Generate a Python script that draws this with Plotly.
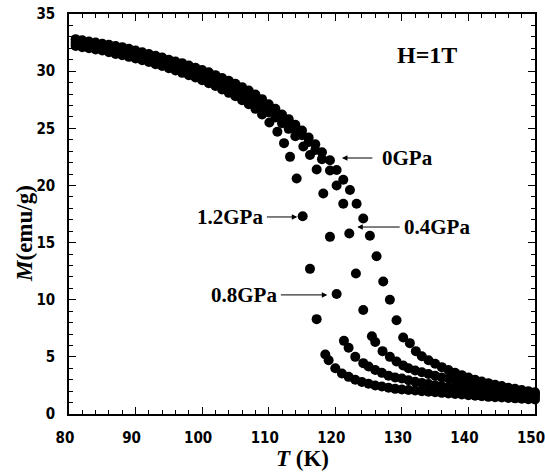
import plotly.graph_objects as go

# Magnetization M (emu/g) versus temperature T (K) at H = 1 T for four pressures
t_0gpa = [81, 82, 83, 84, 85, 86, 87, 88, 89, 90, 91, 92, 93, 94, 95, 96, 97, 98, 99, 100,
          101, 102, 103, 104, 105, 106, 107, 108, 109, 110, 111, 112, 113, 114, 115, 116, 117, 118,
          119.2, 120.2, 121.2, 122.2, 123.2, 124.2, 125.2, 126.2, 127.2, 128.2, 129.2, 130.2, 131.2,
          132.1, 133, 134, 135, 136, 137, 138, 139, 140, 141, 142, 143, 144, 145, 146, 147, 148, 149, 150]
m_0gpa = [32.8, 32.7, 32.6, 32.5, 32.4, 32.3, 32.2, 32.1, 31.95, 31.8, 31.65, 31.5, 31.35, 31.2, 31.0,
          30.85, 30.7, 30.5, 30.3, 30.1, 29.9, 29.65, 29.4, 29.15, 28.9, 28.6, 28.3, 27.95, 27.55, 27.1,
          26.7, 26.2, 25.8, 25.3, 24.8, 24.2, 23.6, 22.9,
          22.2, 21.35, 20.5, 19.6, 18.4, 17.1, 15.6, 13.8, 11.6, 10.0, 8.2, 6.7, 6.2,
          5.5, 5.05, 4.7, 4.4, 4.1, 3.85, 3.6, 3.4, 3.2, 3.0, 2.85, 2.7, 2.55, 2.45, 2.3, 2.2, 2.1, 2.0, 1.9]

t_04gpa = [81, 82, 83, 84, 85, 86, 87, 88, 89, 90, 91, 92, 93, 94, 95, 96, 97, 98, 99, 100,
           101, 102, 103, 104, 105, 106, 107, 108, 109, 110, 111, 112, 113, 114, 115, 116, 117, 118,
           119.2, 120.2, 121.2, 122.1, 123.1, 124.2, 125.5, 126.0, 127.1, 128.2, 129.2, 130.2,
           131, 132, 133, 134, 135, 136, 137, 138, 139, 140, 141, 142, 143, 144, 145, 146, 147, 148, 149, 150]
m_04gpa = [32.6, 32.5, 32.4, 32.3, 32.2, 32.1, 31.95, 31.8, 31.7, 31.55, 31.4, 31.25, 31.1, 30.95, 30.8,
           30.6, 30.45, 30.25, 30.05, 29.85, 29.6, 29.4, 29.15, 28.9, 28.6, 28.3, 28.0, 27.65, 27.25, 26.85,
           26.4, 25.95, 25.45, 24.95, 24.4, 23.8, 23.1, 22.3,
           21.3, 20.0, 18.4, 15.8, 12.3, 9.1, 6.8, 6.3, 5.5, 5.0, 4.6, 4.25,
           4.0, 3.8, 3.65, 3.5, 3.35, 3.2, 3.1, 2.95, 2.85, 2.75, 2.65, 2.55, 2.45, 2.35, 2.25, 2.15, 2.05,
           1.95, 1.85, 1.75]

t_08gpa = [81, 82, 83, 84, 85, 86, 87, 88, 89, 90, 91, 92, 93, 94, 95, 96, 97, 98, 99, 100,
           101, 102, 103, 104, 105, 106, 107, 108, 109, 110, 111, 112, 113, 114,
           115.2, 116.2, 117.2, 118.2, 119.2, 120.2, 121.3, 122.0, 123.0, 124.2,
           125, 126, 127, 128, 129, 130, 131, 132, 133, 134, 135, 136, 137, 138, 139, 140,
           141, 142, 143, 144, 145, 146, 147, 148, 149, 150]
m_08gpa = [32.4, 32.3, 32.2, 32.1, 32.0, 31.85, 31.7, 31.6, 31.45, 31.3, 31.15, 31.0, 30.85, 30.7, 30.5,
           30.35, 30.15, 29.95, 29.75, 29.55, 29.3, 29.1, 28.85, 28.55, 28.25, 27.95, 27.6, 27.25, 26.85,
           26.4, 25.95, 25.45, 24.95, 24.3,
           23.4, 22.66, 21.4, 19.3, 15.5, 10.5, 6.4, 5.8, 5.0, 4.45,
           4.15, 3.85, 3.6, 3.35, 3.2, 3.1, 2.95, 2.82, 2.72, 2.62, 2.52, 2.43, 2.35, 2.27, 2.2, 2.13,
           2.06, 2.0, 1.94, 1.88, 1.82, 1.76, 1.7, 1.65, 1.6, 1.55]

t_12gpa = [81, 82, 83, 84, 85, 86, 87, 88, 89, 90, 91, 92, 93, 94, 95, 96, 97, 98, 99, 100,
           101, 102, 103, 104, 105, 106, 107, 108, 109,
           110.1, 111.3, 112.3, 113.2, 114.2, 115.1, 116.2, 117.2, 118.5, 119.0,
           120, 121, 122, 123, 124, 125, 126, 127, 128, 129, 130, 131, 132, 133, 134, 135,
           136, 137, 138, 139, 140, 141, 142, 143, 144, 145, 146, 147, 148, 149, 150]
m_12gpa = [32.2, 32.1, 32.0, 31.9, 31.8, 31.65, 31.5, 31.4, 31.25, 31.1, 30.95, 30.8, 30.6, 30.45,
           30.25, 30.05, 29.85, 29.65, 29.45, 29.2, 28.95, 28.7, 28.4, 28.1, 27.8, 27.45, 27.1, 26.7, 26.2,
           25.5, 24.7, 23.7, 22.5, 20.6, 17.3, 12.7, 8.3, 5.2, 4.7,
           4.0, 3.55, 3.25, 3.0, 2.8, 2.65, 2.5, 2.4, 2.3, 2.2, 2.15, 2.1, 2.05, 2.0, 1.95, 1.9,
           1.85, 1.8, 1.75, 1.7, 1.65, 1.6, 1.55, 1.5, 1.47, 1.44, 1.4, 1.37, 1.34, 1.3, 1.27]

series = [("0GPa", t_0gpa, m_0gpa), ("0.4GPa", t_04gpa, m_04gpa),
          ("0.8GPa", t_08gpa, m_08gpa), ("1.2GPa", t_12gpa, m_12gpa)]

# pressure labels: text position, arrow tail and arrow tip (T, M)
labels = [
    ("0GPa", 126.7, 22.4, "left", 125.8, 121.0),
    ("0.4GPa", 130.0, 16.36, "left", 129.9, 123.3),
    ("1.2GPa", 109.4, 17.24, "right", 109.5, 114.3),
    ("0.8GPa", 111.6, 10.42, "right", 111.6, 118.8),
]

tick_font = dict(family="DejaVu Sans Condensed, Liberation Sans Narrow, sans-serif",
                 size=15, color="black", weight="bold")
serif = "Liberation Serif, Times New Roman, serif"

fig = go.Figure()
for name, t, m in series:
    fig.add_trace(go.Scatter(x=t, y=m, mode="markers", name=name, cliponaxis=False,
                             marker=dict(color="black", size=10, line=dict(width=0))))

axis_common = dict(showline=True, linecolor="black", linewidth=1.5, mirror="allticks",
                   ticks="inside", ticklen=7, tickwidth=1.2, tickcolor="black",
                   showgrid=False, zeroline=False, tickfont=tick_font, automargin=False,
                   ticklabelstandoff=9, ticklabeloverflow="allow")

fig.update_xaxes(range=[80, 150], tickvals=[80, 90, 100, 110, 120, 130, 140, 150],
                 ticklabelshift=-4,
                 minor=dict(dtick=2, tick0=80, ticks="inside", ticklen=4, tickcolor="black", tickwidth=1),
                 **axis_common)
fig.update_yaxes(range=[0, 35], tickvals=[0, 5, 10, 15, 20, 25, 30, 35],
                 minor=dict(dtick=1, tick0=0, ticks="inside", ticklen=4, tickcolor="black", tickwidth=1),
                 **axis_common)

annotations = []
for text, tx, ty, anchor, ax, tip in labels:
    annotations.append(dict(x=tx, y=ty, xref="x", yref="y", text=text, showarrow=False,
                            xanchor=anchor, yanchor="middle",
                            font=dict(family=serif, size=21, color="black", weight="bold")))
    annotations.append(dict(x=tip, y=ty, xref="x", yref="y", ax=ax, ay=ty, axref="x", ayref="y",
                            text="", showarrow=True, arrowhead=2, arrowsize=1.1,
                            arrowwidth=1, arrowcolor="black", standoff=0, startstandoff=0))

annotations.append(dict(x=133.8, y=31.4, xref="x", yref="y", text="H=1T", showarrow=False,
                        font=dict(family=serif, size=24, color="black", weight="bold")))
annotations.append(dict(x=0.5, y=-0.11, xref="paper", yref="paper", text="<i>T</i> (K)",
                        showarrow=False, xanchor="center", yanchor="middle",
                        font=dict(family=serif, size=23, color="black", weight="bold")))
annotations.append(dict(x=-0.0966, y=0.4525, xref="paper", yref="paper", text="<i>M</i>(emu/g)",
                        showarrow=False, textangle=-90, xanchor="center", yanchor="middle",
                        font=dict(family=serif, size=23, color="black", weight="bold")))

fig.update_layout(width=545, height=472, margin=dict(l=69, r=10, t=14, b=58),
                  paper_bgcolor="white", plot_bgcolor="white", showlegend=False,
                  annotations=annotations)

fig.write_html("out.html")
